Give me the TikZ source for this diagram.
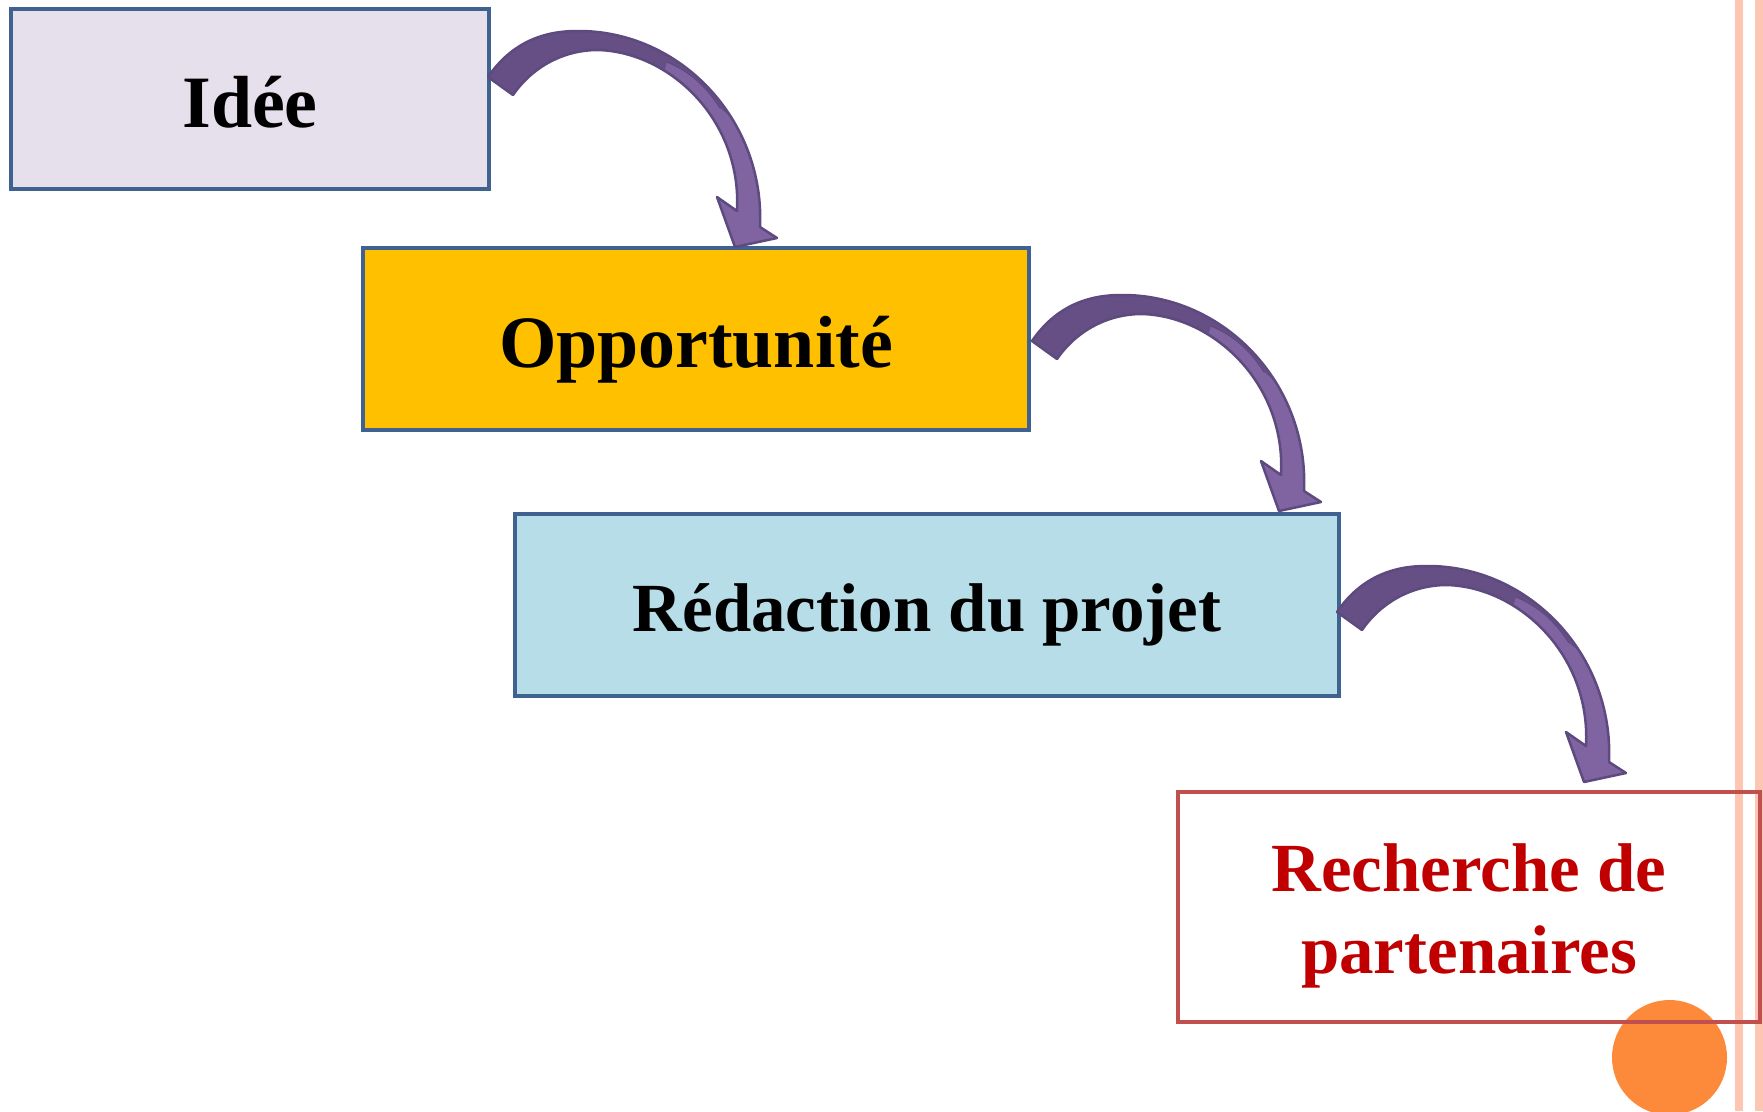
\documentclass[tikz,border=0pt]{standalone}
\usepackage{fontspec}
\setmainfont{Liberation Serif}
\usetikzlibrary{positioning}

\definecolor{boxblue}{HTML}{3F6290}
\definecolor{ideefill}{HTML}{E5E0EC}
\definecolor{oppfill}{HTML}{FFC000}
\definecolor{redacfill}{HTML}{B7DEE8}
\definecolor{partred}{HTML}{C0504D}
\definecolor{parttext}{HTML}{C00000}
\definecolor{stripepink}{HTML}{FCC6B2}
\definecolor{dotorange}{HTML}{FD8A3B}
\definecolor{arrowlight}{HTML}{8064A2}
\definecolor{arrowdark}{HTML}{654F85}
\definecolor{arrowline}{HTML}{5D4A7E}

\tikzset{
  stepbox/.style={draw=boxblue,line width=0.04cm,rectangle,text depth=0pt},
  bigbold/.style={font=\fontsize{21}{25}\selectfont\bfseries,text height=16pt},
  midbold/.style={font=\fontsize{19.6}{23.3}\selectfont\bfseries,text height=15.2pt},
  bendarrow/.pic={
    \begin{scope}
    \clip (0,0) .. controls (22,-32) and (52,-46) .. (89,-46) .. controls (192,-47) and (277,43) .. (272,150) -- (289,161) -- (247,170) -- (229,120) -- (249,134) .. controls (254,43) and (182,-25) .. (110,-27) .. controls (72,-27) and (42,-7) .. (25,18) -- cycle;
    \fill[arrowlight] (-20,-80) rectangle (300,180);
    \fill[arrowdark] (272,63) -- (232,31) .. controls (217,8) and (202,-5) .. (179,-15) -- (172,8) -- (-18,63) -- (-18,-77) -- (212,-77) -- (292,-17) -- cycle;
    \draw[arrowline,line width=0.01cm] (232,31) .. controls (217,8) and (202,-5) .. (179,-15);
    \end{scope}
    \draw[arrowline,line width=0.025cm,line join=round] (0,0) .. controls (22,-32) and (52,-46) .. (89,-46) .. controls (192,-47) and (277,43) .. (272,150) -- (289,161) -- (247,170) -- (229,120) -- (249,134) .. controls (254,43) and (182,-25) .. (110,-27) .. controls (72,-27) and (42,-7) .. (25,18) -- cycle;
  }
}

\begin{document}
\begin{tikzpicture}[x=0.01cm,y=-0.01cm]
\useasboundingbox (0,0) rectangle (1763,1111);
% side stripes and dot
\fill[stripepink] (1735,0) rectangle (1743,1111);
\fill[stripepink] (1755,0) rectangle (1763,1111);
\fill[dotorange] (1669.5,1057.5) circle (57.5);

% steps
\node[stepbox,bigbold,fill=ideefill,minimum width=4.77cm,minimum height=1.80cm] (idee) at (250,99) {Idée};
\node[stepbox,bigbold,fill=oppfill,minimum width=6.65cm,minimum height=1.82cm] (opport) at (696,339) {Opportunité};
\node[stepbox,midbold,fill=redacfill,minimum width=8.23cm,minimum height=1.815cm] (redac) at (927,605) {Rédaction du projet};
\node[draw=partred,line width=0.04cm,font=\fontsize{19.6}{23.3}\selectfont\bfseries,text=parttext,align=center,minimum width=5.815cm,minimum height=2.30cm] (recherche) at (1469,907) {\rule{0pt}{18.4pt}Recherche de\\partenaires};

% curved arrows
\pic (a1) at (488,77) {bendarrow};
\pic (a2) at (1032,341) {bendarrow};
\pic (a3) at (1337,612) {bendarrow};

\end{tikzpicture}
\end{document}
